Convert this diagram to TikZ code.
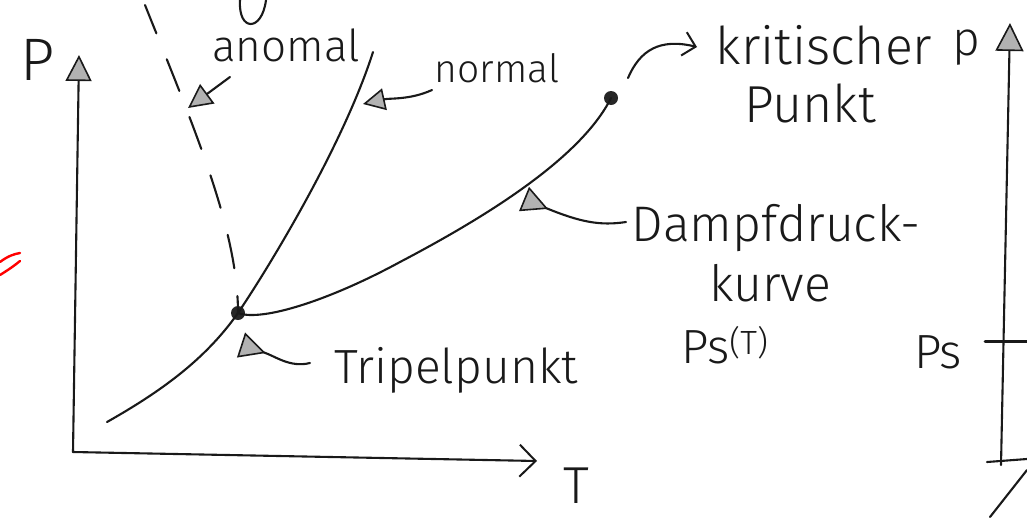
\documentclass[tikz,border=0pt]{standalone}
\usepackage{fontspec}
\setmainfont{Fira Sans}[UprightFont={* Light}]
\usetikzlibrary{arrows.meta}
\begin{document}
\begin{tikzpicture}[x=1pt, y=-1pt, line cap=round, line join=round,
  ink/.style={line width=2.1pt, black!90},
  lbl/.style={font=\fontsize{#1}{#1}\selectfont, inner sep=0pt, text=black!90},
  lbl/.default=48,
  dot/.style={circle, fill=black!85, inner sep=0pt, minimum size=14pt},
  tri/.style={-{Triangle[open, fill=black!30, length=#1, width=#1, line width=1.6pt]}},
  tri/.default=24pt,
  rtri/.style={-{Triangle[reversed, open, fill=black!30, length=26pt, width=26pt, line width=1.6pt]}},
  barb/.style={-{Straight Barb[length=#1, width=2*#1, line width=2pt]}},
]
\useasboundingbox (0,0) rectangle (1027,517);

% --- p-T axes ---
\coordinate (O) at (73,452);
\coordinate (Ptop) at (79,55);
\coordinate (Tend) at (537,461);
\draw[ink, tri=26pt] (O) -- (Ptop);
\draw[ink, barb=16pt] (O) -- (Tend);
\node[lbl=60] (plabel) at (38,60) {P};
\node[lbl=52] (tlabel) at (576,486) {T};

% --- triple point and critical point ---
\node[dot] (tp) at (238,313) {};
\node[dot] (kp) at (611,98) {};

% melting curve (normal)
\coordinate (mlow) at (107,422);
\coordinate (mtop) at (373,52);
\draw[ink] (mlow) .. controls (160,392) and (205,360) .. (tp.center)
  .. controls (275,258) and (345,140) .. (mtop);

% melting curve (anomalous), dashed
\coordinate (atop) at (145,5);
\draw[ink, dash pattern=on 34pt off 28pt, dash phase=17pt]
  (tp.center) .. controls (238,230) and (195,130) .. (atop);

% vapour pressure curve
\draw[ink] (tp.center) .. controls (262,322) and (330,300) .. (400,262)
  .. controls (480,220) and (580,160) .. (kp.center);

% stroke at the top edge
\coordinate (u1) at (240,0);
\coordinate (u2) at (266,0);
\draw[ink] (u1) .. controls (238,32) and (262,32) .. (u2);

% --- labels with pointers ---
\node[lbl=44] (anom) at (286,45) {anomal};
\coordinate (anomTail) at (230,77);
\coordinate (anomTip) at (188,108);
\draw[ink, tri=24pt] (anomTail) -- (anomTip);

\node[lbl=39] (norm) at (497,68) {normal};
\coordinate (normTail) at (432,90);
\coordinate (normTip) at (363,104);
\draw[ink, tri=22pt] (normTail) .. controls (410,100) and (390,98) .. (normTip);

\node[lbl=52] (krit) at (824,45) {kritischer};
\node[lbl=52] (punkt) at (810,103) {Punkt};
\coordinate (kritTip) at (697,47);
\draw[ink, barb=12pt] ([shift={(17,-20)}]kp.center) .. controls (640,50) and (660,38) .. (kritTip);

\node[lbl=50] (dampf) at (776,228) {Dampfdruck-};
\node[lbl=50] (kurve) at (770,283) {kurve};
\node[lbl] (psT) at (725,345) {Ps\textsuperscript{(T)}};
\coordinate (dampfTail) at (626,222);
\coordinate (dampfTip) at (524,199);
\draw[ink, rtri] (dampfTail) .. controls (600,226) and (580,222) .. (dampfTip);

\node[lbl] (tripel) at (456,370) {Tripelpunkt};
\coordinate (tripTail) at (310,363);
\coordinate (tripTip) at (241,345);
\draw[ink, rtri] (tripTail) .. controls (290,368) and (275,356) .. (tripTip);

% --- pressure axis on the right ---
\coordinate (R0) at (1001,465);
\coordinate (Rtop) at (1010,23);
\draw[ink, tri=28pt] (R0) -- (Rtop);
\node[lbl] (pright) at (966,48) {p};
\coordinate (psL) at (985,341);
\coordinate (psR) at (1027,341);
\draw[ink, line width=3pt] (psL) -- (psR);
\node[lbl] (psright) at (938,352) {Ps};
\coordinate (b1) at (987,462);
\coordinate (b2) at (1027,459);
\draw[ink] (b1) -- (b2);
\coordinate (d1) at (990,517);
\coordinate (d2) at (1027,470);
\draw[ink] (d1) -- (d2);

% red stroke at the left edge
\coordinate (r1) at (0,262);
\coordinate (r2) at (20,253);
\coordinate (r3) at (20,261);
\coordinate (r4) at (0,275);
\draw[red, line width=2.4pt] (r1) .. controls (8,256) and (14,254) .. (r2);
\draw[red, line width=2.4pt] (r3) .. controls (14,266) and (8,270) .. (r4);
\end{tikzpicture}
\end{document}
